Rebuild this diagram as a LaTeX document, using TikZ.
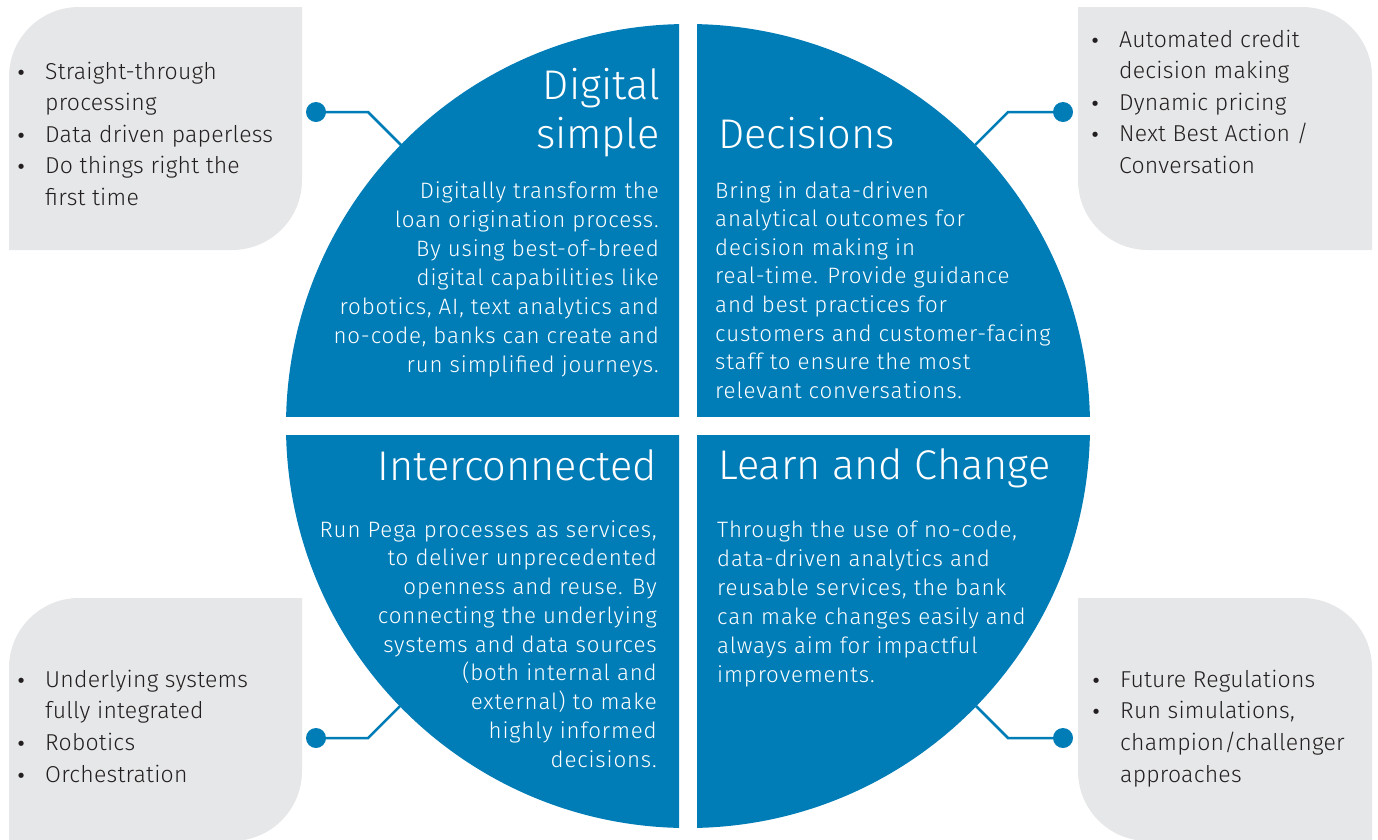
\documentclass[tikz,border=0pt]{standalone}
\usepackage{fontspec}
\setmainfont{Fira Sans}[UprightFont={* Light}]
\newfontfamily\bulfont{DejaVu Sans}
\definecolor{pblue}{HTML}{007CB7}
\definecolor{pgray}{HTML}{E6E7E8}
\definecolor{ptext}{HTML}{231F20}
\newcommand\linesR[2]{\vtop{\baselineskip=#1\lineskiplimit=-100pt\relax\halign{\hfil##\cr#2\crcr}}}
\newcommand\linesL[2]{\vtop{\baselineskip=#1\lineskiplimit=-100pt\relax\halign{##\hfil\cr#2\crcr}}}
\newcommand\bul{\hbox to 24pt{\hbox to 0pt{\hss{\bulfont\fontsize{18pt}{18pt}\selectfont •}\hss}\hfil}}
\newcommand\nob{\hbox to 24pt{\hfil}}
\newcommand\bullist[2]{\vtop{\baselineskip=#1\lineskiplimit=-100pt\relax\halign{##&##\hfil\cr#2\crcr}}}
\tikzset{
  quad/.style={fill=pblue},
  leaf/.style={fill=pgray},
  ttl/.style={inner sep=0pt, text=white, font=\fontsize{41.5pt}{49pt}\selectfont},
  body/.style={inner sep=0pt, text=white, font=\fontsize{22.3pt}{29pt}\selectfont\addfontfeature{LetterSpace=3.8}},
  lst/.style={inner sep=0pt, text=ptext, font=\fontsize{23pt}{31pt}\selectfont\addfontfeature{LetterSpace=1}},
  dot/.style={circle, fill=pblue, minimum size=20pt, inner sep=0pt},
  conn/.style={draw=pblue, line width=2.5pt}
}
\begin{document}
\begin{tikzpicture}[x=1pt,y=-1pt]
\useasboundingbox (0,0) rectangle (1378,839);
% gray leaf boxes
\fill[leaf] (9,77) .. controls (9,38.3) and (40.3,7) .. (79,7) -- (302,7) -- (302,180) .. controls (302,218.7) and (270.7,250) .. (232,250) -- (9,250) -- cycle;
\fill[leaf] (1078,7) -- (1302,7) .. controls (1340.7,7) and (1372,38.3) .. (1372,77) -- (1372,250) -- (1148,250) .. controls (1109.3,250) and (1078,218.7) .. (1078,180) -- cycle;
\fill[leaf] (9,668) .. controls (9,629.3) and (40.3,598) .. (79,598) -- (302,598) -- (302,771) .. controls (302,809.7) and (270.7,841) .. (232,841) -- (9,841) -- cycle;
\fill[leaf] (1078,598) -- (1302,598) .. controls (1340.7,598) and (1372,629.3) .. (1372,668) -- (1372,841) -- (1148,841) .. controls (1109.3,841) and (1078,809.7) .. (1078,771) -- cycle;
% quadrants
\begin{scope}\clip (0,0) rectangle (679,416); \fill[quad] (688,426) circle[radius=402pt]; \end{scope}
\begin{scope}\clip (697,0) rectangle (1378,416); \fill[quad] (688,426) circle[radius=402pt]; \end{scope}
\begin{scope}\clip (0,435) rectangle (679,839); \fill[quad] (688,426) circle[radius=402pt]; \end{scope}
\begin{scope}\clip (697,435) rectangle (1378,839); \fill[quad] (688,426) circle[radius=402pt]; \end{scope}
% connectors
\node[dot] (d1) at (316,112) {};
\node[dot] (d2) at (1063,112) {};
\node[dot] (d3) at (316,738) {};
\node[dot] (d4) at (1063,738) {};
\coordinate (k1) at (368,112); \coordinate (e1) at (401,145);
\coordinate (k2) at (1008,112); \coordinate (e2) at (975,145);
\coordinate (k3) at (368,738); \coordinate (e3) at (400,706);
\coordinate (k4) at (1008,738); \coordinate (e4) at (976,706);
\draw[conn] (d1.center) -- (k1) -- (e1);
\draw[conn] (d2.center) -- (k2) -- (e2);
\draw[conn] (d3.center) -- (k3) -- (e3);
\draw[conn] (d4.center) -- (k4) -- (e4);
% titles
\node[ttl, anchor=base east] (t1) at (660,99) {\linesR{49pt}{Digital\cr simple}};
\node[ttl, anchor=base west] (t2) at (718,148) {Decisions};
\node[ttl, anchor=base east] (t3) at (657,480) {Interconnected};
\node[ttl, anchor=base west] (t4) at (718,479) {Learn and Change};
% body texts
\node[body, anchor=base east] (b1) at (659,198) {\linesR{29pt}{Digitally transform the\cr loan origination process.\cr By using best-of-breed\cr digital capabilities like\cr robotics, AI, text analytics and\cr no-code, banks can create and\cr run simplified journeys.}};
\node[body, anchor=base west] (b2) at (715,198) {\linesL{28.6pt}{Bring in data-driven\cr analytical outcomes for\cr decision making in\cr real-time. Provide guidance\cr and best practices for\cr customers and customer-facing\cr staff to ensure the most\cr relevant conversations.}};
\node[body, anchor=base east] (b3) at (657,537) {\linesR{28.75pt}{Run Pega processes as services,\cr to deliver unprecedented\cr openness and reuse. By\cr connecting the underlying\cr systems and data sources\cr (both internal and\cr external) to make\cr highly informed\cr decisions.}};
\node[body, anchor=base west] (b4) at (717,537) {\linesL{29pt}{Through the use of no-code,\cr data-driven analytics and\cr reusable services, the bank\cr can make changes easily and\cr always aim for impactful\cr improvements.}};
% bullet lists
\node[lst, anchor=base west] (l1) at (21,79) {\bullist{31.5pt}{\bul&Straight-through\cr\nob&processing\cr\bul&Data driven paperless\cr\bul&Do things right the\cr\nob&first time}};
\node[lst, anchor=base west] (l2) at (1095,47) {\bullist{31.5pt}{\bul&Automated credit\cr\nob&decision making\cr\bul&Dynamic pricing\cr\bul&Next Best Action /\cr\nob&Conversation}};
\node[lst, anchor=base west] (l3) at (21,687) {\bullist{31.67pt}{\bul&Underlying systems\cr\nob&fully integrated\cr\bul&Robotics\cr\bul&Orchestration}};
\node[lst, anchor=base west] (l4) at (1096,687) {\bullist{31.67pt}{\bul&Future Regulations\cr\bul&Run simulations,\cr\nob&champion/challenger\cr\nob&approaches}};
\end{tikzpicture}
\end{document}
